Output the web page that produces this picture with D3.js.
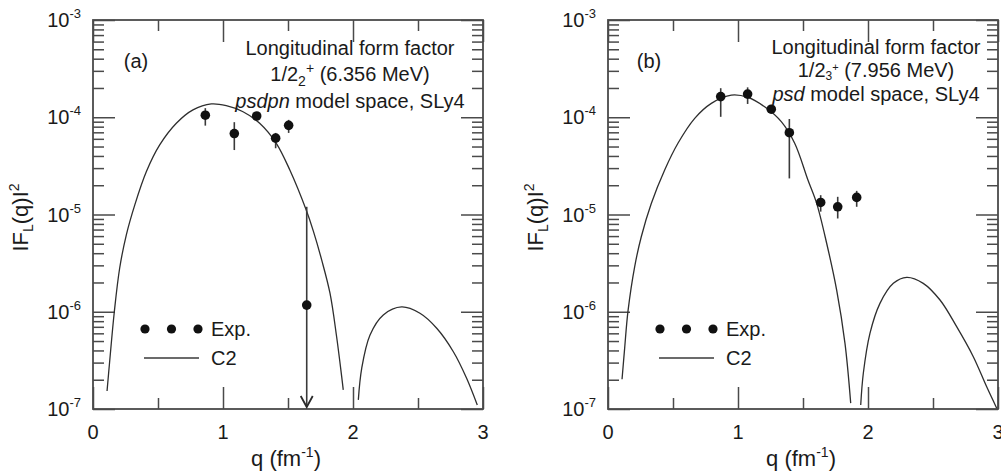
<!DOCTYPE html>
<html><head><meta charset="utf-8">
<script src="https://cdn.jsdelivr.net/npm/d3@7"></script>
<style>
html,body{margin:0;padding:0;background:#fff;}
svg{display:block;font-family:"Liberation Sans",Arial,sans-serif;}
</style></head><body>
<svg id="chart" width="1001" height="474"></svg>
<script>
// Axis ticks
const qMajorTicks = [0, 1, 2, 3];
const qMinorTicks = [0.5, 1.5, 2.5];
const decades = [1e-7, 1e-6, 1e-5, 1e-4, 1e-3];
const decadeExponents = ["-7", "-6", "-5", "-4", "-3"];

// (a) 1/2_2^+ (6.356 MeV), psdpn model space
const expQA  = [0.864, 1.087, 1.259, 1.405, 1.505, 1.644];
const expFA  = [1.05e-4, 6.8e-5, 1.03e-4, 6.1e-5, 8.25e-5, 1.17e-6];
const expHiA = [1.24e-4, 8.9e-5, 1.09e-4, 6.9e-5, 9.4e-5, 1.2e-5];
const expLoA = [8.2e-5, 4.6e-5, 9.7e-5, 4.8e-5, 6.9e-5, null]; // null = upper limit (arrow)
const c2QA1 = [0.108,0.128,0.164,0.205,0.256,0.321,0.41,0.513,0.641,0.769,0.91,1.025,1.154,1.282,1.41,1.515,1.638,1.695,1.759,1.823,1.874,1.913,1.925];
const c2FA1 = [1.53e-7,3.06e-7,1.0e-6,2.8e-6,6.15e-6,1.25e-5,2.75e-5,5.19e-5,8.67e-5,1.19e-4,1.37e-4,1.315e-4,1.14e-4,8.67e-5,5.4e-5,2.85e-5,1.13e-5,6.75e-6,3.41e-6,1.55e-6,5.53e-7,2.15e-7,1.57e-7];
const c2QA2 = [2.041,2.067,2.131,2.233,2.374,2.515,2.644,2.772,2.874,2.956];
const c2FA2 = [1.24e-7,2.62e-7,5.77e-7,9.27e-7,1.12e-6,9.64e-7,6.76e-7,3.88e-7,2.07e-7,1.10e-7];

// (b) 1/2_3^+ (7.956 MeV), psd model space
const expQB  = [0.867, 1.074, 1.256, 1.395, 1.636, 1.767, 1.913];
const expFB  = [1.63e-4, 1.73e-4, 1.21e-4, 6.94e-5, 1.33e-5, 1.2e-5, 1.5e-5];
const expHiB = [1.99e-4, 2.03e-4, 1.34e-4, 9.6e-5, 1.58e-5, 1.52e-5, 1.75e-5];
const expLoB = [1.01e-4, 1.37e-4, 1.1e-4, 2.35e-5, 1.07e-5, 9.1e-6, 1.2e-5];
const c2QB1 = [0.108,0.128,0.154,0.205,0.256,0.333,0.436,0.538,0.667,0.795,0.949,1.077,1.205,1.333,1.436,1.538,1.605,1.682,1.759,1.823,1.867];
const c2FB1 = [2.02e-7,4.2e-7,1.02e-6,2.9e-6,5.91e-6,1.3e-5,2.87e-5,5.4e-5,9.75e-5,1.39e-4,1.69e-4,1.6e-4,1.28e-4,9.0e-5,5.4e-5,2.26e-5,1.3e-5,5.06e-6,1.67e-6,4.73e-7,1.15e-7];
const c2QB2 = [1.944,1.964,2.015,2.092,2.195,2.298,2.425,2.554,2.682,2.81,2.913,2.99];
const c2FB2 = [1.10e-7,2.33e-7,6.0e-7,1.22e-6,1.96e-6,2.26e-6,1.96e-6,1.32e-6,7.02e-7,3.45e-7,1.69e-7,1.02e-7];

// Panel captions
const panelTags = ["(a)", "(b)"];
const captionTitle = "Longitudinal form factor";
const stateSub = ["2", "3"];
const stateEnergy = [" (6.356 MeV)", " (7.956 MeV)"];
const spaceName = ["psdpn", "psd"];
const spaceRest = " model space, SLy4";
const legendLabels = ["Exp.", "C2"];

const svg = d3.select("#chart");
const FRAME = "#4a4a4a", INK = "#1a1a1a";

const panels = [
  {left: 93, right: 483, expQ: expQA, expF: expFA, hi: expHiA, lo: expLoA,
   curves: [[c2QA1, c2FA1], [c2QA2, c2FA2]], capX: 350, capY: [55, 81, 108], tagX: 136,
   subDy: 5, subSize: 14, plusSize: 14, plusDy: -13},
  {left: 608, right: 998, expQ: expQB, expF: expFB, hi: expHiB, lo: expLoB,
   curves: [[c2QB1, c2FB1], [c2QB2, c2FB2]], capX: 876, capY: [54, 77, 101], tagX: 649,
   subDy: 3, subSize: 12, plusSize: 11, plusDy: -9}
];
const plotTop = 20, plotBottom = 409;

panels.forEach((p, i) => {
  const x = d3.scaleLinear().domain([0, 3]).range([p.left, p.right]);
  const y = d3.scaleLog().domain([1e-7, 1e-3]).range([plotBottom, plotTop]);
  const g = svg.append("g");

  // minor decade ticks 2..9
  const minorY = [];
  decades.slice(0, -1).forEach(d => { for (let k = 2; k <= 9; k++) minorY.push(d * k); });

  const tickStyle = sel => sel.call(s => s.select(".domain").remove())
    .call(s => s.selectAll("line").attr("stroke", FRAME).attr("stroke-width", 1.5))
    .call(s => s.selectAll("text").remove());

  // inward ticks on all four sides
  g.append("g").attr("transform", `translate(0,${plotBottom})`)
    .call(d3.axisBottom(x).tickValues(qMajorTicks).tickSize(-22)).call(tickStyle);
  g.append("g").attr("transform", `translate(0,${plotBottom})`)
    .call(d3.axisBottom(x).tickValues(qMinorTicks).tickSize(-11)).call(tickStyle);
  g.append("g").attr("transform", `translate(0,${plotTop})`)
    .call(d3.axisTop(x).tickValues(qMajorTicks).tickSize(-22)).call(tickStyle);
  g.append("g").attr("transform", `translate(0,${plotTop})`)
    .call(d3.axisTop(x).tickValues(qMinorTicks).tickSize(-11)).call(tickStyle);
  g.append("g").attr("transform", `translate(${p.left},0)`)
    .call(d3.axisLeft(y).tickValues(decades).tickSize(-22)).call(tickStyle);
  g.append("g").attr("transform", `translate(${p.left},0)`)
    .call(d3.axisLeft(y).tickValues(minorY).tickSize(-11)).call(tickStyle);
  g.append("g").attr("transform", `translate(${p.right},0)`)
    .call(d3.axisRight(y).tickValues(decades).tickSize(-22)).call(tickStyle);
  g.append("g").attr("transform", `translate(${p.right},0)`)
    .call(d3.axisRight(y).tickValues(minorY).tickSize(-11)).call(tickStyle);

  // frame
  g.append("rect").attr("x", p.left).attr("y", plotTop)
    .attr("width", p.right - p.left).attr("height", plotBottom - plotTop)
    .attr("fill", "none").attr("stroke", FRAME).attr("stroke-width", 1.8);

  // x tick labels
  g.selectAll(".xl").data(qMajorTicks).join("text")
    .attr("x", d => x(d)).attr("y", plotBottom + 30)
    .attr("text-anchor", "middle").attr("font-size", 20).attr("fill", INK)
    .text(d => d);

  // y tick labels 10^n
  decades.forEach((d, k) => {
    const t = g.append("text").attr("x", p.left - 12).attr("y", y(d) + 7)
      .attr("text-anchor", "end").attr("font-size", 20).attr("fill", INK);
    t.append("tspan").text("10");
    t.append("tspan").attr("dy", -9).attr("font-size", 13).text(decadeExponents[k]);
  });

  // axis titles
  const cx = (p.left + p.right) / 2;
  const xt = g.append("text").attr("x", cx - 2).attr("y", plotBottom + 57)
    .attr("text-anchor", "middle").attr("font-size", 22).attr("fill", INK);
  xt.append("tspan").text("q (fm");
  xt.append("tspan").attr("dy", -9).attr("font-size", 14).text("-1");
  xt.append("tspan").attr("dy", 9).text(")");

  const yt = g.append("text")
    .attr("transform", `translate(${p.left - 65},${(plotTop + plotBottom) / 2 + 3}) rotate(-90)`)
    .attr("text-anchor", "middle").attr("font-size", 22).attr("fill", INK);
  yt.append("tspan").text("IF");
  yt.append("tspan").attr("dy", 5).attr("font-size", 14).text("L");
  yt.append("tspan").attr("dy", -5).text("(q)I");
  yt.append("tspan").attr("dy", -9).attr("font-size", 14).text("2");

  // C2 curve
  const line = d3.line().x(d => x(d[0])).y(d => y(d[1])).curve(d3.curveCatmullRom.alpha(0.5));
  p.curves.forEach(([qs, fs]) => {
    g.append("path").datum(qs.map((q, k) => [q, fs[k]]))
      .attr("d", line).attr("fill", "none").attr("stroke", "#2e2e2e").attr("stroke-width", 1.3);
  });

  // experimental points with error bars
  p.expQ.forEach((q, k) => {
    const xx = x(q);
    const yHi = y(p.hi[k]);
    const yLo = p.lo[k] === null ? y(1e-7) - 2 : y(p.lo[k]);
    g.append("line").attr("x1", xx).attr("x2", xx).attr("y1", yHi).attr("y2", yLo)
      .attr("stroke", "#3a3a3a").attr("stroke-width", 1.6);
    if (p.lo[k] === null) {
      g.append("path")
        .attr("d", `M${xx - 6},${yLo - 11}L${xx},${yLo}L${xx + 6},${yLo - 11}`)
        .attr("fill", "none").attr("stroke", "#2a2a2a").attr("stroke-width", 1.8);
    }
    g.append("circle").attr("cx", xx).attr("cy", y(p.expF[k])).attr("r", 4.8).attr("fill", "#111");
  });

  // legend
  const lx = p.left + 52, ly = 329;
  [0, 1, 2].forEach(k => g.append("circle").attr("cx", lx + k * 26.5).attr("cy", ly).attr("r", 4.6).attr("fill", "#111"));
  g.append("text").attr("x", lx + 66).attr("y", ly + 7).attr("font-size", 20).attr("fill", INK).text(legendLabels[0]);
  g.append("line").attr("x1", lx - 1).attr("x2", lx + 54).attr("y1", ly + 29).attr("y2", ly + 29)
    .attr("stroke", "#3a3a3a").attr("stroke-width", 1.4);
  g.append("text").attr("x", lx + 66).attr("y", ly + 36).attr("font-size", 20).attr("fill", INK).text(legendLabels[1]);

  // captions
  g.append("text").attr("x", p.tagX).attr("y", 68).attr("text-anchor", "middle")
    .attr("font-size", 20).attr("fill", INK).text(panelTags[i]);
  g.append("text").attr("x", p.capX).attr("y", p.capY[0]).attr("text-anchor", "middle")
    .attr("font-size", 20).attr("fill", INK).text(captionTitle);
  const st = g.append("text").attr("x", p.capX).attr("y", p.capY[1]).attr("text-anchor", "middle")
    .attr("font-size", 20).attr("fill", INK);
  st.append("tspan").text("1/2");
  st.append("tspan").attr("dy", p.subDy).attr("font-size", p.subSize).text(stateSub[i]);
  st.append("tspan").attr("dy", p.plusDy).attr("font-size", p.plusSize).text("+");
  st.append("tspan").attr("dy", -p.subDy - p.plusDy).text(stateEnergy[i]);
  const sp = g.append("text").attr("x", p.capX).attr("y", p.capY[2]).attr("text-anchor", "middle")
    .attr("font-size", 20).attr("fill", INK);
  sp.append("tspan").attr("font-style", "italic").text(spaceName[i]);
  sp.append("tspan").text(spaceRest);
});
</script>
</body></html>
